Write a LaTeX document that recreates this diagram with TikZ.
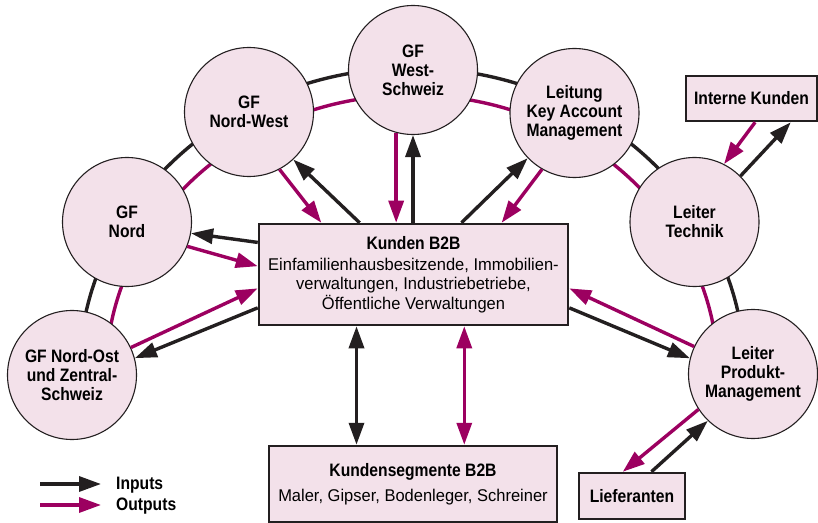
\documentclass[tikz,border=0pt]{standalone}
\usepackage{fontspec}
\setmainfont{Liberation Sans}[FakeStretch=0.97,BoldFeatures={FakeStretch=0.87}]
\usetikzlibrary{calc,arrows.meta}

\definecolor{incol}{HTML}{231F20}
\definecolor{outcol}{HTML}{9C0060}
\definecolor{roundfill}{HTML}{F3E1EA}

\begin{document}
\begin{tikzpicture}[x=1bp,y=-1bp]

% ---------- parameters ----------
\def\D{129bp}   % circle diameter
\def\lw{3.4bp}

% ---------- styles ----------
\tikzset{
  person/.style={circle,draw=incol,line width=1.1bp,fill=roundfill,minimum size=\D,
    inner sep=0pt,align=center,font=\fontsize{18bp}{19bp}\selectfont\bfseries},
  group/.style ={draw=incol,line width=2.5bp,fill=roundfill,inner sep=0pt,align=center,
    font=\fontsize{17bp}{19.5bp}\selectfont},
  inarr/.style ={draw=incol,line width=\lw,-{Triangle[length=22bp,width=15bp]}},
  outarr/.style={draw=outcol,line width=\lw,-{Triangle[length=22bp,width=15bp]}}
}

\useasboundingbox (0,0) rectangle (818,523);

% ---------- ring ----------
\draw[incol,line width=\lw]  (79,375)  arc[start angle=180,end angle=0,x radius=333bp,y radius=307bp];
\draw[outcol,line width=\lw] (106,375) arc[start angle=180,end angle=0,x radius=306bp,y radius=280bp];

% ---------- circles ----------
\node[person] (ws)   at (413,70)    {GF\\West-\\Schweiz};
\node[person] (nw)   at (249,112)   {GF\\Nord-West};
\node[person] (gn)   at (127,222)   {GF\\Nord};
\node[person] (no)   at (72,375)    {GF Nord-Ost\\und Zentral-\\Schweiz};
\node[person] (kam)  at (574.5,113) {Leitung\\Key Account\\Management};
\node[person] (tech) at (694.5,222) {Leiter\\Technik};
\node[person] (pm)   at (753,374)   {Leiter\\Produkt-\\Management};

% ---------- boxes ----------
\node[group,minimum width=309bp,minimum height=101bp] (kb) at (413.5,274.5)
  {{\fontsize{18bp}{19bp}\selectfont\bfseries Kunden B2B}\\[1.5bp]
   Einfamilienhausbesitzende, Immobilien-\\verwaltungen, Industriebetriebe,\\Öffentliche Verwaltungen};
\node[group,minimum width=288bp,minimum height=76bp] (ks) at (413,484)
  {{\fontsize{18bp}{19bp}\selectfont\bfseries Kundensegmente B2B}\\[5bp]
   Maler, Gipser, Bodenleger, Schreiner};
\node[group,minimum width=131bp,minimum height=45bp,font=\fontsize{18bp}{19bp}\selectfont\bfseries]
  (ik) at (751.5,98.5) {Interne Kunden};
\node[group,minimum width=106bp,minimum height=46bp,font=\fontsize{18bp}{19bp}\selectfont\bfseries]
  (lf) at (632,496) {Lieferanten};

% ---------- arrows to the top ----------
% Nord-West
\draw[outarr] (nw.-62) -- ($(kb.north west)!0.204!(kb.north east)$);
\draw[inarr]  ($(kb.north west)!0.327!(kb.north east)$) -- (nw.-47);
% West-Schweiz
\draw[outarr] (ws.-105) -- (ws.-105 |- kb.north);
\draw[inarr]  (kb.north -| ws.south) -- (ws.south);
% Key Account
\draw[inarr]  ($(kb.north west)!0.654!(kb.north east)$) -- (kam.-136);
\draw[outarr] (kam.-120) -- ($(kb.north west)!0.783!(kb.north east)$);

% ---------- arrows to the sides ----------
% Nord
\draw[inarr]  ($(kb.north west)!0.19!(kb.south west)$) -- (gn.-10);
\draw[outarr] (gn.-22) -- ($(kb.north west)!0.42!(kb.south west)$);
% Nord-Ost
\draw[outarr] (no.25) -- ($(kb.north west)!0.634!(kb.south west)$);
\draw[inarr]  ($(kb.north west)!0.822!(kb.south west)$) -- (no.15);
% Produkt-Management
\draw[outarr] (pm.155) -- ($(kb.north east)!0.634!(kb.south east)$);
\draw[inarr]  ($(kb.north east)!0.822!(kb.south east)$) -- (pm.166);

% ---------- segments ----------
\coordinate (kbA) at ($(kb.south west)!0.317!(kb.south east)$);
\coordinate (kbB) at ($(kb.south west)!0.663!(kb.south east)$);
\draw[incol,line width=\lw,{Triangle[length=22bp,width=15bp]}-{Triangle[length=22bp,width=15bp]}]
  (kbA) -- (kbA |- ks.north);
\draw[outcol,line width=\lw,{Triangle[length=22bp,width=15bp]}-{Triangle[length=22bp,width=15bp]}]
  (kbB) -- (kbB |- ks.north);

% ---------- interne kunden / lieferanten ----------
\draw[outarr] ($(ik.south west)!0.527!(ik.south east)$) -- (tech.63);
\draw[inarr]  (tech.45) -- ($(ik.south west)!0.794!(ik.south east)$);
\draw[outarr] (pm.-147) -- ($(lf.north west)!0.415!(lf.north east)$);
\draw[inarr]  ($(lf.north west)!0.679!(lf.north east)$) -- (pm.-134);

% ---------- legend ----------
\coordinate (inA)  at (40,484);
\coordinate (inB)  at (101,484);
\coordinate (outA) at (40,505);
\coordinate (outB) at (101,505);
\draw[inarr]  (inA) -- (inB);
\draw[outarr] (outA) -- (outB);
\node[anchor=west,inner sep=0pt,font=\fontsize{18bp}{19bp}\selectfont\bfseries] (inlab)  at (116,485) {Inputs};
\node[anchor=west,inner sep=0pt,font=\fontsize{18bp}{19bp}\selectfont\bfseries] (outlab) at (116,506) {Outputs};

\end{tikzpicture}
\end{document}
